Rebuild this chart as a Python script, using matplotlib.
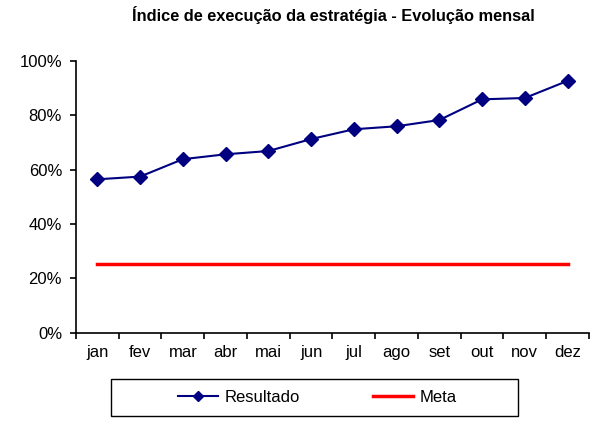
import numpy as np
import matplotlib.pyplot as plt
from matplotlib.patches import Rectangle
from matplotlib.ticker import FuncFormatter

plt.rcParams['font.family'] = ['Liberation Sans', 'DejaVu Sans']

meses = ['jan', 'fev', 'mar', 'abr', 'mai', 'jun', 'jul', 'ago', 'set', 'out', 'nov', 'dez']
resultado = [56.4, 57.4, 63.8, 65.6, 66.8, 71.2, 74.8, 75.9, 78.2, 85.8, 86.3, 92.6]
meta = [25.3] * 12

fig = plt.figure(figsize=(5.97, 4.22), dpi=100)
ax = fig.add_axes([0.1273, 0.2116, 0.8593, 0.6445])

x = np.arange(len(meses))
ax.plot(x, resultado, color='#000080', lw=1.5, marker='D', markersize=7.5,
        label='Resultado')
ax.plot(x, meta, color='#ff0000', lw=2.5, label='Meta')

ax.set_xlim(-0.5, len(meses) - 0.5)
ax.set_ylim(0, 100)
ax.set_yticks(np.arange(0, 101, 20))
ax.yaxis.set_major_formatter(FuncFormatter(lambda v, p: f'{v:.0f}%'))
ax.set_xticks(np.arange(-0.5, len(meses)), labels=[])
ax.set_xticks(x, labels=meses, minor=True)
ax.tick_params(axis='x', which='major', length=4, width=1.2, direction='out')
ax.tick_params(axis='x', which='minor', length=0, pad=9, labelsize=12)
ax.tick_params(axis='y', length=4, width=1.2, pad=6, labelsize=12)

for s in ['top', 'right']:
    ax.spines[s].set_visible(False)
for s in ['left', 'bottom']:
    ax.spines[s].set_linewidth(1.2)

fig.text(0.559, 0.964, 'Índice de execução da estratégia - Evolução mensal',
         ha='center', va='center', fontsize=11.8, fontweight='bold')

# caixa da legenda
box = (0.1854, 0.0142, 0.683, 0.0877)
fig.patches.append(Rectangle(box[:2], box[2], box[3], transform=fig.transFigure,
                             fill=False, edgecolor='black', lw=1.0))
leg = fig.legend(loc='center', bbox_to_anchor=(0.532, box[1] + box[3] / 2),
                 ncol=2, frameon=False, handlelength=2.4, handletextpad=0.4,
                 columnspacing=4.4, fontsize=12, markerscale=0.65)

fig.savefig('out.png', dpi=100)
